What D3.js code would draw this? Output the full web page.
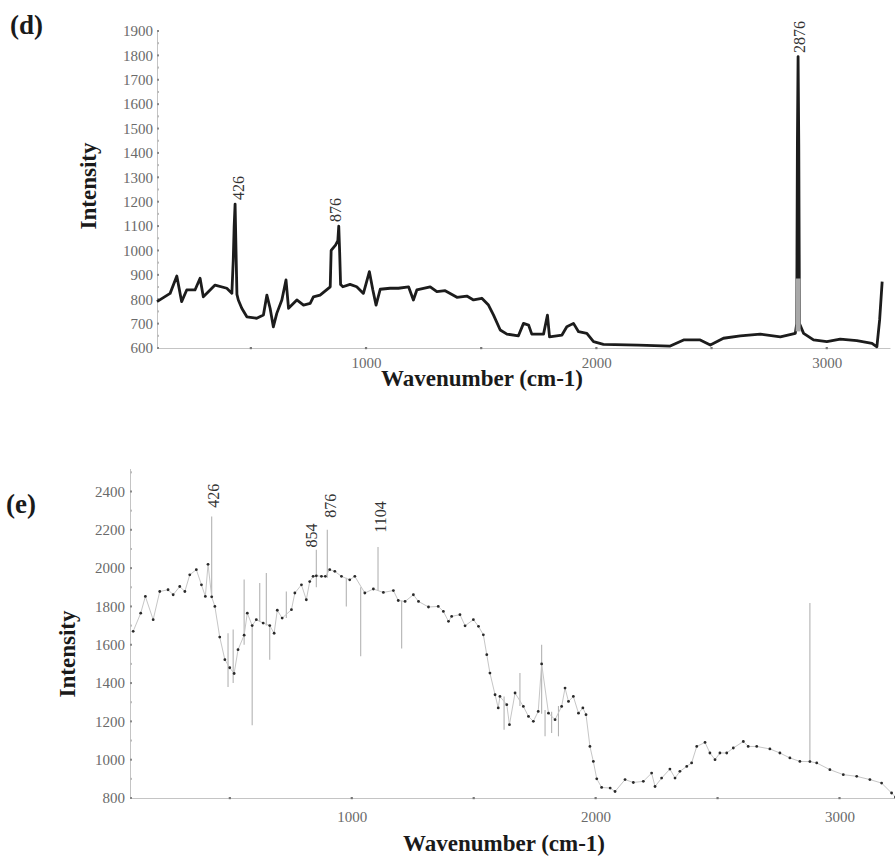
<!DOCTYPE html>
<html>
<head>
<meta charset="utf-8">
<script src="https://cdn.jsdelivr.net/npm/d3@7"></script>
<style>
  body { margin: 0; background: #fff; }
  svg text { font-family: 'Liberation Serif', 'DejaVu Serif', serif; }
</style>
</head>
<body>
<svg id="chart" width="895" height="858"></svg>
<script>
// panel (d): [wavenumber, intensity]
const spectrumD = [
  [93, 790], [150, 824], [179, 895], [200, 790], [222, 838], [258, 838], [280, 886],
  [294, 810], [316, 831], [345, 858], [396, 845], [418, 824], [424, 960], [428, 1100],
  [432, 1190], [436, 1000], [440, 820], [446, 797], [461, 763], [483, 728], [526, 722],
  [555, 735], [570, 817], [584, 763], [598, 687], [613, 742], [635, 797], [653, 879],
  [664, 763], [700, 797], [729, 776], [758, 783], [772, 810], [801, 817], [845, 851],
  [849, 1000], [868, 1022], [878, 1040], [882, 1100], [886, 990], [890, 860], [900, 851],
  [931, 861], [960, 851], [989, 824], [1015, 913], [1030, 838], [1044, 776], [1062, 841],
  [1105, 845], [1141, 845], [1185, 851], [1206, 797], [1221, 838], [1279, 851],
  [1308, 831], [1344, 835], [1395, 808], [1438, 813], [1467, 797], [1503, 804],
  [1532, 776], [1554, 735], [1583, 674], [1612, 657], [1662, 650], [1684, 701],
  [1706, 694], [1720, 657], [1771, 657], [1788, 735], [1797, 646], [1851, 653],
  [1872, 687], [1901, 701], [1923, 667], [1959, 660], [1988, 626], [2031, 615],
  [2183, 612], [2321, 608], [2379, 633], [2451, 633], [2495, 612], [2552, 640],
  [2625, 650], [2712, 657], [2799, 646], [2864, 660], [2870, 700], [2873, 1430],
  [2876, 1795], [2879, 1430], [2882, 700], [2900, 660], [2943, 633], [3001, 626],
  [3059, 636], [3131, 630], [3197, 619], [3218, 605], [3230, 715], [3241, 872]
];
const bandD = [[2876, 668], [2876, 885]];
const peaksD = [
  { wn: 447, i: 1207, text: '426' },
  { wn: 871, i: 1117, text: '876' },
  { wn: 2885, i: 1810, text: '2876' }
];

// panel (e): [wavenumber, intensity]
const spectrumE = [
  [104, 1670], [135, 1765], [154, 1852], [186, 1731], [213, 1878], [247, 1887], [268, 1861],
  [295, 1904], [316, 1878], [336, 1965], [363, 1992], [384, 1913], [400, 1852], [411, 2020],
  [426, 1850], [439, 1800], [459, 1640], [480, 1522], [500, 1480], [518, 1450], [534, 1574],
  [559, 1650], [572, 1765], [592, 1700], [609, 1731], [637, 1713], [664, 1700], [682, 1660],
  [695, 1780], [715, 1739], [753, 1783], [767, 1870], [794, 1913], [814, 1835], [828, 1930],
  [842, 1957], [855, 1960], [876, 1957], [892, 1957], [910, 1992], [931, 1983], [958, 1957],
  [992, 1939], [1013, 1957], [1054, 1870], [1089, 1891], [1130, 1873], [1171, 1883],
  [1191, 1831], [1219, 1826], [1253, 1861], [1274, 1826], [1315, 1797], [1355, 1800],
  [1376, 1774], [1397, 1722], [1410, 1748], [1444, 1757], [1465, 1699], [1499, 1731],
  [1520, 1696], [1540, 1652], [1554, 1548], [1567, 1452], [1588, 1339], [1601, 1270],
  [1608, 1330], [1636, 1287], [1647, 1183], [1670, 1348], [1704, 1278], [1725, 1226],
  [1745, 1200], [1765, 1252], [1779, 1500], [1807, 1243], [1834, 1209], [1861, 1278],
  [1875, 1374], [1889, 1304], [1909, 1330], [1930, 1243], [1948, 1270], [1961, 1235],
  [1977, 1069], [1991, 991], [2005, 900], [2025, 855], [2060, 852], [2080, 834],
  [2121, 896], [2155, 881], [2196, 887], [2230, 930], [2244, 860], [2271, 904],
  [2305, 951], [2326, 904], [2346, 939], [2374, 965], [2394, 983], [2415, 1069],
  [2449, 1090], [2469, 1035], [2490, 1000], [2510, 1035], [2538, 1035], [2565, 1061],
  [2606, 1095], [2626, 1069], [2661, 1069], [2715, 1056], [2756, 1035], [2797, 1009],
  [2838, 991], [2879, 990], [2907, 983], [2961, 948], [3016, 922], [3071, 913],
  [3125, 896], [3173, 878], [3214, 826], [3230, 805]
];
// [wavenumber, low, high]
const spikesE = [
  [426, 1850, 2270], [493, 1380, 1660], [514, 1400, 1680], [559, 1600, 1940],
  [592, 1180, 1700], [623, 1720, 1922], [650, 1700, 1974], [664, 1522, 1700],
  [732, 1740, 1878], [855, 1900, 2096], [900, 1950, 2200], [978, 1800, 1950],
  [1037, 1540, 1900], [1108, 1880, 2110], [1205, 1580, 1830], [1625, 1156, 1330],
  [1690, 1280, 1452], [1779, 1240, 1600], [1793, 1122, 1260], [1820, 1139, 1250],
  [1848, 1122, 1280], [2879, 990, 1818]
];
const peaksE = [
  { wn: 434, i: 2315, text: '426' },
  { wn: 836, i: 2107, text: '854' },
  { wn: 916, i: 2263, text: '876' },
  { wn: 1121, i: 2185, text: '1104' }
];

const xTickLabels = [1000, 2000, 3000];
const xTickDots = [500, 1000, 1500, 2000, 2500, 3000];
const yTickLabelsD = d3.range(600, 1901, 100);
const yTickDotsD = d3.range(600, 1901, 50);
const yTickLabelsE = d3.range(800, 2401, 200);
const yTickDotsE = d3.range(800, 2501, 100);

class SpectrumPanel {
  constructor(svg, cfg) {
    this.cfg = cfg;
    this.g = svg.append('g');
    this.x = d3.scaleLinear().domain(cfg.xDomain).range(cfg.xRange);
    this.y = d3.scaleLinear().domain(cfg.yDomain).range(cfg.yRange);
  }

  drawAxes(yLabels, yDots) {
    const cfg = this.cfg;
    const x0 = cfg.xRange[0];
    const y0 = cfg.yRange[0];

    const xAxis = this.g.append('g')
      .attr('transform', `translate(0,${y0})`)
      .call(d3.axisBottom(this.x).tickValues(xTickLabels).tickFormat(d3.format('d'))
        .tickSize(0).tickPadding(cfg.xPad).tickSizeOuter(0));
    const yAxis = this.g.append('g')
      .attr('transform', `translate(${x0},0)`)
      .call(d3.axisLeft(this.y).tickValues(yLabels).tickFormat(d3.format('d'))
        .tickSize(0).tickPadding(cfg.yPad).tickSizeOuter(0));

    [xAxis, yAxis].forEach((a) => {
      a.select('.domain').attr('stroke', '#c4c4c4').attr('stroke-width', 1);
      a.selectAll('text')
        .attr('font-size', 15)
        .attr('fill', '#6a6a6a');
    });

    this.g.selectAll('.xdot').data(xTickDots).join('rect')
      .attr('x', (d) => this.x(d) - 1)
      .attr('y', y0 - 1)
      .attr('width', 2.2)
      .attr('height', 2.2)
      .attr('fill', '#777');

    this.g.selectAll('.ydot').data(yDots).join('rect')
      .attr('x', x0)
      .attr('y', (d) => this.y(d) - 1)
      .attr('width', 2)
      .attr('height', 2)
      .attr('fill', (d, i) => (i % 2 === 0 ? '#888' : '#bbb'));
  }

  drawLine(data, color, width) {
    const line = d3.line()
      .x((d) => this.x(d[0]))
      .y((d) => this.y(d[1]));
    this.g.append('path')
      .datum(data)
      .attr('d', line)
      .attr('fill', 'none')
      .attr('stroke', color)
      .attr('stroke-width', width)
      .attr('stroke-linejoin', 'round');
  }

  drawSpikes(data) {
    this.g.selectAll('.spike').data(data).join('line')
      .attr('x1', (d) => this.x(d[0]))
      .attr('x2', (d) => this.x(d[0]))
      .attr('y1', (d) => this.y(d[1]))
      .attr('y2', (d) => this.y(d[2]))
      .attr('stroke', '#b3b3b3')
      .attr('stroke-width', 1.1);
  }

  drawDots(data) {
    this.g.selectAll('.pt').data(data).join('circle')
      .attr('cx', (d) => this.x(d[0]))
      .attr('cy', (d) => this.y(d[1]))
      .attr('r', 1.4)
      .attr('fill', '#2a2a2a');
  }

  addPeakLabels(peaks) {
    this.g.selectAll('.peak').data(peaks).join('text')
      .attr('transform', (d) => `translate(${this.x(d.wn) + 5},${this.y(d.i)}) rotate(-90)`)
      .attr('text-anchor', 'start')
      .attr('font-size', 16)
      .attr('fill', '#333')
      .text((d) => d.text);
  }

  addTitles(panel, titles) {
    this.g.append('text')
      .attr('x', titles.panel[0])
      .attr('y', titles.panel[1])
      .attr('font-size', 27)
      .attr('font-weight', 'bold')
      .attr('fill', '#1a1a1a')
      .text(panel);

    this.g.append('text')
      .attr('transform', `translate(${titles.yTitle[0]},${titles.yTitle[1]}) rotate(-90)`)
      .attr('text-anchor', 'middle')
      .attr('font-size', 23)
      .attr('font-weight', 'bold')
      .attr('fill', '#1a1a1a')
      .text('Intensity');

    this.g.append('text')
      .attr('x', titles.xTitle[0])
      .attr('y', titles.xTitle[1])
      .attr('text-anchor', 'middle')
      .attr('font-size', 23)
      .attr('font-weight', 'bold')
      .attr('fill', '#1a1a1a')
      .text('Wavenumber (cm-1)');
  }
}

const svg = d3.select('#chart');

const panelD = new SpectrumPanel(svg, {
  xDomain: [93, 3275], xRange: [157, 890],
  yDomain: [600, 1900], yRange: [348, 31],
  xPad: 9, yPad: 4
});
panelD.drawAxes(yTickLabelsD, yTickDotsD);
panelD.drawLine(spectrumD, '#1c1c1c', 2.8);
panelD.drawLine(bandD, '#a8a8a8', 5);
panelD.addPeakLabels(peaksD);
panelD.addTitles('(d)', { panel: [10, 34], yTitle: [96, 186], xTitle: [482, 386] });

const panelE = new SpectrumPanel(svg, {
  xDomain: [91, 3228], xRange: [130, 895],
  yDomain: [800, 2520], yRange: [798, 468.5],
  xPad: 13, yPad: 5
});
panelE.drawAxes(yTickLabelsE, yTickDotsE);
panelE.drawSpikes(spikesE);
panelE.drawLine(spectrumE, '#c6c6c6', 1);
panelE.drawDots(spectrumE);
panelE.addPeakLabels(peaksE);
panelE.addTitles('(e)', { panel: [6, 513], yTitle: [75, 654], xTitle: [504, 851] });
</script>
</body>
</html>
